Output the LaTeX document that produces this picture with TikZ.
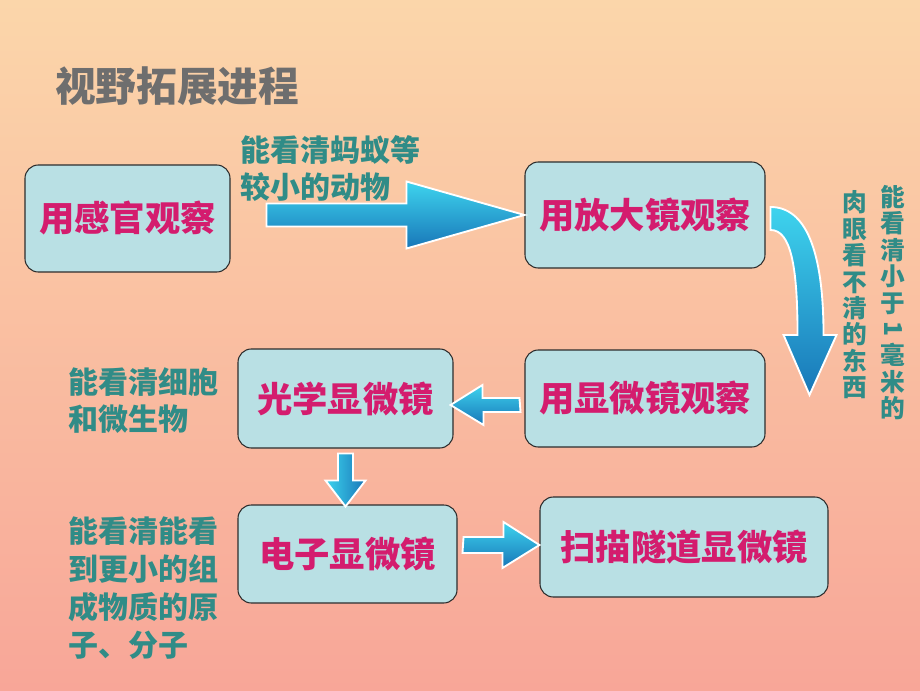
\documentclass[tikz,border=0pt]{standalone}
\usepackage{fontspec}
\newfontfamily\cjk{Noto Sans CJK SC}
\usetikzlibrary{calc}

\definecolor{bgtop}{RGB}{251,214,170}
\definecolor{bgbottom}{RGB}{248,166,152}
\definecolor{boxfill}{RGB}{185,224,228}
\definecolor{boxline}{RGB}{45,45,45}
\definecolor{stagetext}{RGB}{212,28,110}
\definecolor{notetext}{RGB}{48,140,135}
\definecolor{titlegray}{RGB}{110,110,110}
\definecolor{arrowlight}{RGB}{62,212,238}
\definecolor{arrowdark}{RGB}{24,118,184}

\tikzset{
  stage/.style={draw=boxline, fill=boxfill, rounded corners=10pt, line width=0.8pt,
    text=stagetext, font=\cjk\bfseries\fontsize{26.5}{32}\selectfont},
  note/.style={text=notetext, align=left, inner sep=0pt,
    font=\cjk\bfseries\fontsize{22.5}{27.5}\selectfont},
  vnote/.style={text=notetext, align=center, inner sep=0pt,
    font=\cjk\bfseries\fontsize{18.5}{19.8}\selectfont},
  fatarrow/.style={draw=white, line width=1.4pt, line join=miter},
}

\begin{document}
\begin{tikzpicture}[x=0.75pt, y=0.75pt]

    \useasboundingbox (0,0) rectangle (920,690);
    \fill[top color=bgtop, bottom color=bgbottom] (0,0) rectangle (920,690);

    % Titolo
    \node[anchor=west, inner sep=0pt, text=titlegray, font=\cjk\bfseries\fontsize{30.5}{36}\selectfont] (title) at (55,604) {视野拓展进程};

    % Stadi
    \node[stage, minimum width=153.75pt, minimum height=80.25pt] (sense) at (127.5,471.5) {用感官观察};
    \node[stage, minimum width=180pt, minimum height=79.5pt] (lens) at (645,475) {用放大镜观察};
    \node[stage, minimum width=180pt, minimum height=72.75pt] (micro) at (645,291.5) {用显微镜观察};
    \node[stage, minimum width=161.25pt, minimum height=74.25pt] (optic) at (345.5,291.5) {光学显微镜};
    \node[stage, minimum width=164.25pt, minimum height=73.5pt] (electron) at (347.5,136) {电子显微镜};
    \node[stage, minimum width=216pt, minimum height=75pt] (stm) at (684,143) {扫描隧道显微镜};

    % Note
    \node[note, anchor=west] (antnote) at (240,521.5) {能看清蚂蚁等\\较小的动物};
    \node[note, anchor=west] (cellnote) at (68,289.5) {能看清细胞\\和微生物};
    \node[note, anchor=west, font=\cjk\bfseries\fontsize{22.5}{28.3}\selectfont] (atomnote) at (68,102) {能看清能看\\到更小的组\\成物质的原\\子、分子};
    \node[vnote, anchor=north] (mmtop) at (893,505) {能\\看\\清\\小\\于};
    \node[vnote, rotate=-90] (mmone) at (893,361) {1};
    \node[vnote, anchor=south] (mmbottom) at (893,270) {毫\\米\\的};
    \node[vnote] (eyenote) at (855,395) {肉\\眼\\看\\不\\清\\的\\东\\西};

    % Freccia da sense a lens
    \draw[fatarrow, top color=arrowlight, bottom color=arrowdark]
      ($(lens.west)+(-258,11.5)$) -- ++(140,0) -- ++(0,22) -- (lens.west)
      -- ++(-118,-33.5) -- ++(0,22) -- ++(-140,0) -- cycle;

    % Freccia curva da lens a micro
    \draw[fatarrow, top color=arrowlight, bottom color=arrowdark]
      ($(lens.east)+(5,8)$) .. controls ($(lens.east)+(40,8)$) and ($(lens.east)+(58,-35)$) .. ($(lens.east)+(58,-120)$)
      -- ($(lens.east)+(71,-120)$) -- ($(micro.east)+(44,3.5)$) -- ($(lens.east)+(18,-120)$)
      -- ($(lens.east)+(32,-120)$) .. controls ($(lens.east)+(32,-50)$) and ($(lens.east)+(25,-15)$) .. ($(lens.east)+(5,-15)$)
      -- cycle;

    % Freccia da micro a optic
    \draw[fatarrow, top color=arrowlight, bottom color=arrowdark]
      ($(micro.west)+(-5,0.5)$) -- ++(-37,0) -- ++(0,13) -- ($(optic.east)+(-3,-6.5)$)
      -- ++(33,-20) -- ++(0,13) -- ++(37,0) -- cycle;

    % Freccia da optic a electron
    \draw[fatarrow, left color=arrowlight, right color=arrowdark]
      ($(optic.south)+(-7.5,-5)$) -- ++(0,-27) -- ++(-12.5,0) -- ($(optic.south)+(0,-58)$)
      -- ++(20,26) -- ++(-12.5,0) -- ++(0,27) -- cycle;

    % Freccia da electron a stm
    \draw[fatarrow, top color=arrowlight, bottom color=arrowdark]
      ($(electron.east)+(6,17)$) -- ++(40,0) -- ++(0,15) -- ($(stm.west)+(0,2)$)
      -- ++(-37,-23) -- ++(0,15) -- ++(-40,0) -- cycle;

\end{tikzpicture}
\end{document}
